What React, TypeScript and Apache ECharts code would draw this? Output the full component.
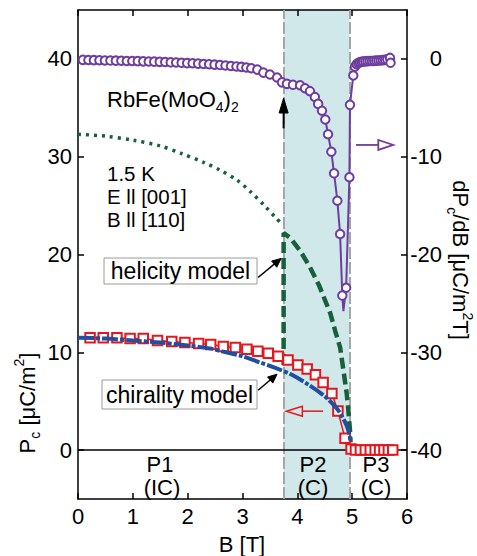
import React, { useEffect, useRef } from "react";
import * as echarts from "echarts";

const FONT = "'Liberation Sans', Arial, Helvetica, sans-serif";

// axis ticks
const xTicks = [0, 1, 2, 3, 4, 5, 6];
const leftTicks = [0, 10, 20, 30, 40];
const rightTicks = [-40, -30, -20, -10, 0];

// phase boundaries (T)
const phaseBounds = [3.75, 4.95];

// dPc/dB data (right axis)
const dPdB_B = [0.09, 0.19, 0.29, 0.39, 0.49, 0.59, 0.69, 0.79, 0.89, 0.99, 1.09, 1.19, 1.29, 1.39, 1.49, 1.59, 1.69, 1.79, 1.89, 1.99, 2.09, 2.19, 2.29, 2.39, 2.49, 2.59, 2.69, 2.79, 2.89, 2.98, 3.07, 3.16, 3.27, 3.38, 3.5, 3.63, 3.72, 3.81, 3.92, 4.05, 4.14, 4.23, 4.32, 4.38, 4.45, 4.51, 4.56, 4.62, 4.67, 4.73, 4.78, 4.82, 4.84, 4.89, 4.95, 4.96, 5.02, 5.05, 5.08, 5.11, 5.14, 5.17, 5.2, 5.24, 5.28, 5.32, 5.36, 5.4, 5.44, 5.48, 5.52, 5.56, 5.6, 5.64, 5.69, 5.7];
const dPdB_V = [-0.1, -0.11, -0.13, -0.14, -0.16, -0.17, -0.18, -0.19, -0.21, -0.22, -0.23, -0.25, -0.27, -0.28, -0.3, -0.32, -0.35, -0.37, -0.4, -0.43, -0.45, -0.48, -0.52, -0.55, -0.59, -0.63, -0.67, -0.72, -0.77, -0.82, -0.88, -0.95, -1.1, -1.4, -1.6, -1.9, -2.4, -2.55, -2.65, -2.7, -3.0, -3.3, -3.9, -4.6, -5.3, -6.2, -7.7, -9.5, -11.7, -14.5, -17.9, -24.2, -25.8, -23.4, -12.1, -4.7, -1.7, -0.8, -0.55, -0.42, -0.35, -0.3, -0.27, -0.25, -0.23, -0.22, -0.21, -0.2, -0.18, -0.17, -0.15, -0.13, -0.1, -0.05, 0.1, -0.4];
const dPdB_noMarker = [4.84];

// Pc data (left axis)
const pc_B = [0.22, 0.46, 0.71, 0.95, 1.19, 1.45, 1.71, 1.95, 2.2, 2.42, 2.65, 2.87, 3.08, 3.28, 3.47, 3.65, 3.83, 4.01, 4.18, 4.33, 4.47, 4.63, 4.74, 4.87, 4.98, 5.06, 5.15, 5.24, 5.33, 5.42, 5.5, 5.58, 5.66, 5.74];
const pc_V = [11.5, 11.5, 11.5, 11.4, 11.4, 11.2, 11.1, 11.0, 10.9, 10.8, 10.6, 10.5, 10.3, 10.1, 9.9, 9.6, 9.2, 8.7, 8.3, 7.7, 6.9, 5.8, 4.0, 1.2, 0.1, 0, 0, 0, 0, 0, 0, 0, 0, 0];

// chirality model
const chir_B = [0, 0.5, 1.0, 1.5, 2.0, 2.4, 2.7, 3.0, 3.3, 3.6, 3.9, 4.2, 4.5, 4.7, 4.8, 4.9, 4.95, 4.97];
const chir_V = [11.5, 11.4, 11.2, 11.0, 10.7, 10.4, 10.0, 9.6, 9.0, 8.4, 7.7, 6.7, 5.5, 4.4, 3.6, 2.5, 1.6, 0.8];

// helicity model (metastable, dotted)
const helDot_B = [0, 0.5, 1.0, 1.5, 1.9, 2.3, 2.6, 2.9, 3.15, 3.4, 3.6, 3.72];
const helDot_V = [32.3, 32.1, 31.7, 31.1, 30.3, 29.4, 28.6, 27.6, 26.4, 25.0, 23.8, 23.1];

// helicity model (stable, dashed)
const helDash_B = [3.75, 3.75, 3.87, 4.05, 4.23, 4.4, 4.6, 4.69, 4.78, 4.84, 4.9, 4.93, 4.96, 4.97];
const helDash_V = [8.7, 22.2, 21.7, 20.4, 18.7, 16.8, 14.0, 12.2, 10.5, 8.2, 5.8, 4.1, 2.0, 0.8];

const PURPLE = "#6e3d9e";
const RED = "#e3171d";
const BLUE = "#1f4fa0";
const GREEN = "#17603a";

const pairs = (xs: number[], ys: number[]) => xs.map((x, i) => [x, ys[i]]);

export default function App() {
  const ref = useRef<HTMLDivElement>(null);
  useEffect(() => {
    document.body.style.margin = "0";
    const chart = echarts.init(ref.current!, null, { renderer: "svg" });
    const axisLine = { show: true, onZero: false, lineStyle: { color: "#000", width: 1.5 } };
    const tickStyle = { inside: true, length: 6, lineStyle: { color: "#000", width: 1.5 } };
    const labelStyle = { color: "#000", fontSize: 22, fontFamily: FONT };

    const purpleData = dPdB_B.map((b, i) =>
      dPdB_noMarker.includes(b) ? { value: [b, dPdB_V[i]], symbol: "none" } : [b, dPdB_V[i]]
    );

    chart.setOption({
      animation: false,
      backgroundColor: "#fff",
      grid: { left: 78, right: 70, top: 10, bottom: 57, containLabel: false },
      xAxis: [
        {
          type: "value", min: xTicks[0], max: xTicks[xTicks.length - 1], interval: 1, position: "bottom",
          axisLine, axisTick: tickStyle, splitLine: { show: false },
          axisLabel: { ...labelStyle, margin: 6 },
        },
        {
          type: "value", min: xTicks[0], max: xTicks[xTicks.length - 1], interval: 1, position: "top",
          axisLine, axisTick: tickStyle, splitLine: { show: false }, axisLabel: { show: false },
        },
      ],
      yAxis: [
        {
          type: "value", min: -5, max: 45, position: "left",
          axisLine, splitLine: { show: false },
          axisTick: { ...tickStyle, customValues: leftTicks },
          axisLabel: { ...labelStyle, margin: 6, customValues: leftTicks },
        },
        {
          type: "value", min: -45, max: 5, position: "right",
          axisLine, splitLine: { show: false },
          axisTick: { ...tickStyle, customValues: rightTicks },
          axisLabel: { ...labelStyle, margin: 35, align: "right", customValues: rightTicks },
        },
      ],
      series: [
        {
          type: "line", data: [], z: 1, silent: true,
          markArea: {
            silent: true, z: 0,
            itemStyle: { color: "#d0e8ea" },
            data: [[{ xAxis: phaseBounds[0] }, { xAxis: phaseBounds[1] }]],
          },
          markLine: {
            silent: true, z: 1, symbol: "none", label: { show: false },
            data: [
              { xAxis: phaseBounds[0], lineStyle: { color: "#a6a6a6", width: 2, type: [12, 3] } },
              { xAxis: phaseBounds[1], lineStyle: { color: "#a6a6a6", width: 2, type: [12, 3] } },
              { yAxis: 0, lineStyle: { color: "#000", width: 1.5, type: "solid" } },
            ],
          },
        },
        {
          name: "helicity metastable", type: "line", z: 2, symbol: "none", smooth: 0.3,
          data: pairs(helDot_B, helDot_V),
          lineStyle: { color: GREEN, width: 3.5, type: [3, 5] },
        },
        {
          name: "helicity model", type: "line", z: 2, symbol: "none",
          data: pairs(helDash_B, helDash_V),
          lineStyle: { color: GREEN, width: 4.5, type: [11, 5] },
        },
        {
          name: "Pc", type: "line", z: 3, symbol: "rect", symbolSize: 9.5,
          data: pairs(pc_B, pc_V),
          itemStyle: { color: "#fff", borderColor: RED, borderWidth: 2 },
          lineStyle: { color: RED, width: 1.5 },
        },
        {
          name: "chirality model", type: "line", z: 4, symbol: "none", smooth: 0.3,
          data: pairs(chir_B, chir_V),
          lineStyle: { color: BLUE, width: 4, type: [16, 2, 4, 2] },
        },
        {
          name: "dPc/dB", type: "line", z: 5, yAxisIndex: 1, symbol: "circle", symbolSize: 8.5,
          data: purpleData,
          itemStyle: { color: "#fff", borderColor: PURPLE, borderWidth: 2 },
          lineStyle: { color: PURPLE, width: 2 },
        },
      ],
    });

    const px = (b: number, v: number, ax = 0) =>
      chart.convertToPixel({ xAxisIndex: 0, yAxisIndex: ax }, [b, v]) as number[];

    const arrow = (p0: number[], p1: number[], color: string, w: number, hl: number, hw: number, open: boolean) => {
      const dx = p1[0] - p0[0], dy = p1[1] - p0[1];
      const len = Math.hypot(dx, dy);
      const ux = dx / len, uy = dy / len;
      const nx = -uy, ny = ux;
      const bx = p1[0] - ux * hl, by = p1[1] - uy * hl;
      const els: any[] = [
        { type: "line", z: 100, shape: { x1: p0[0], y1: p0[1], x2: bx, y2: by }, style: { stroke: color, lineWidth: w } },
        {
          type: "polygon", z: 100,
          shape: { points: [[p1[0], p1[1]], [bx + nx * hw, by + ny * hw], [bx - nx * hw, by - ny * hw]] },
          style: open ? { fill: null, stroke: color, lineWidth: w } : { fill: color, stroke: color, lineWidth: 1 },
        },
      ];
      return els;
    };

    const rich = {
      m: { fontSize: 22, fontFamily: FONT, lineHeight: 30, verticalAlign: "middle", color: "#000" },
      s: { fontSize: 14, fontFamily: FONT, lineHeight: 14, verticalAlign: "bottom", color: "#000" },
      u: { fontSize: 14, fontFamily: FONT, lineHeight: 14, verticalAlign: "top", color: "#000" },
    };
    const txt = (x: number, y: number, text: string, align = "left", size = 22) => ({
      type: "text", z: 100, x, y,
      style: { text, fontSize: size, fontFamily: FONT, fill: "#000", align, verticalAlign: "middle" },
    });

    const graphic: any[] = [
      ...arrow(px(3.75, 32.9), px(3.75, 36.0), "#000", 2, 15, 4.5, false),
      ...arrow(px(3.285, 17.65), px(3.705, 19.6), "#000", 1.5, 9, 4, false),
      ...arrow(px(3.285, 6.12), px(3.63, 7.76), "#000", 1.5, 9, 4, false),
      ...arrow(px(4.47, 3.98), px(3.8, 3.98), RED, 1.5, 16, 5, true),
      ...arrow(px(5.07, -8.8, 1), px(5.75, -8.8, 1), PURPLE, 1.8, 15, 5, true),
      {
        type: "text", z: 100, x: 107, y: 99,
        style: { text: "{m|RbFe(MoO}{s|4}{m|)}{s|2}", rich, align: "left", verticalAlign: "middle" },
      },
      txt(107, 173, "1.5 K", "left", 20.5),
      txt(107, 196, "E ll [001]", "left", 20.5),
      txt(107, 219, "B ll [110]", "left", 20.5),
      { type: "rect", z: 99, shape: { x: 104, y: 258, width: 153, height: 26 }, style: { fill: "#fff", stroke: "#9a9a9a", lineWidth: 1 } },
      txt(180.5, 271, "helicity model", "center", 23),
      { type: "rect", z: 99, shape: { x: 102, y: 380, width: 155, height: 29 }, style: { fill: "#fff", stroke: "#9a9a9a", lineWidth: 1 } },
      txt(179.5, 394.5, "chirality model", "center", 23),
      txt(160, 464, "P1", "center"),
      txt(162, 487, "(IC)", "center"),
      txt(313, 464, "P2", "center"),
      txt(313, 487, "(C)", "center"),
      txt(376, 464, "P3", "center"),
      txt(376, 487, "(C)", "center"),
      txt(242, 544, "B [T]", "center"),
      {
        type: "text", z: 100, x: 27, y: 403, rotation: Math.PI / 2,
        style: { text: "{m|P}{s|c}{m| [μC/m}{u|2}{m|]}", rich, align: "center", verticalAlign: "middle" },
      },
      {
        type: "text", z: 100, x: 460, y: 260, rotation: -Math.PI / 2,
        style: { text: "{m|dP}{s|c}{m|/dB [μC/m}{u|2}{m|T]}", rich, align: "center", verticalAlign: "middle" },
      },
    ];
    chart.setOption({ graphic });
    return () => chart.dispose();
  }, []);
  return <div ref={ref} style={{ width: 477, height: 556 }} />;
}
